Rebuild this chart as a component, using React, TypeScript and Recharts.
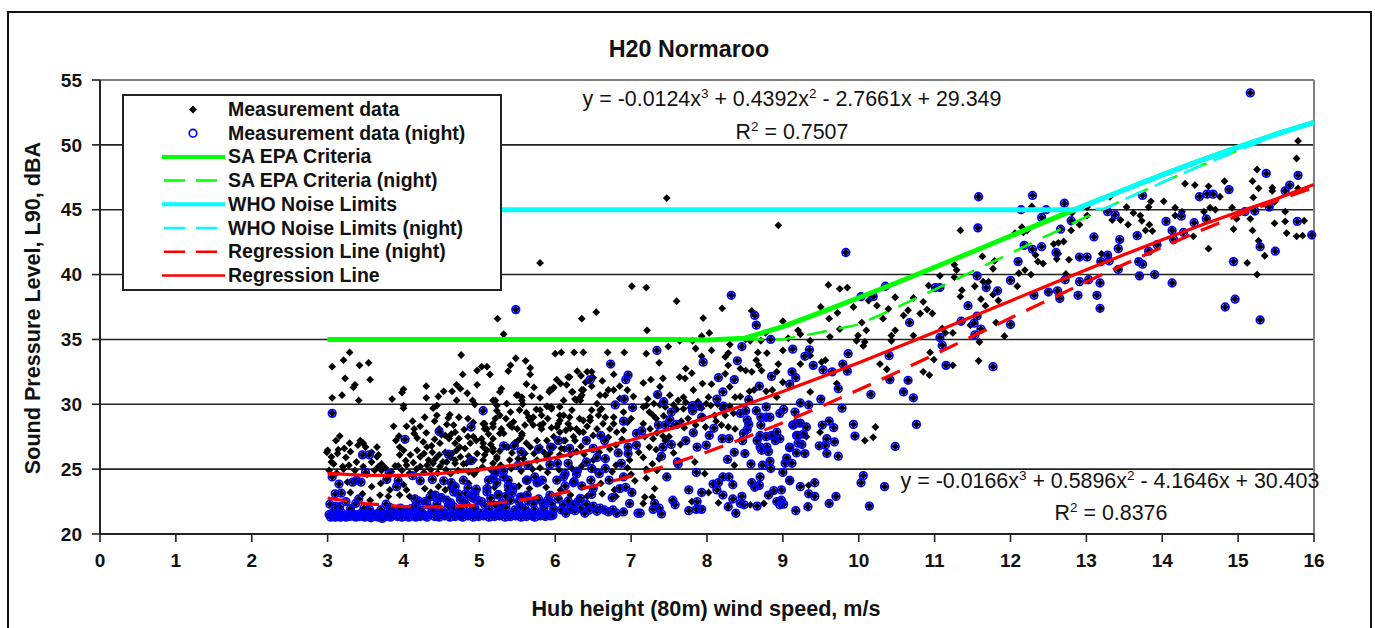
import React from 'react';
import { ScatterChart, Scatter, XAxis, YAxis, CartesianGrid, ReferenceLine } from 'recharts';

type Pair = [number, number];

const xTicks = [0, 1, 2, 3, 4, 5, 6, 7, 8, 9, 10, 11, 12, 13, 14, 15, 16];
const yTicks = [20, 25, 30, 35, 40, 45, 50, 55];
const gridValues = [25, 30, 35, 40, 45, 50];

// black diamonds that have no blue ring, by wind speed band
const dayLow: Pair[] = [
  [3.29,34],[3.06,32.9],[3.21,33.4],[3.42,33],[3.54,33.2],[3.23,32],[3.56,31.9],[3.36,31.5],[3.34,31.3],[3.06,30.5],[3.19,30.7],[3.41,30.3],
  [3.85,30.4],[4,31.15],[3.98,30.9],[4.3,31.4],[4.3,30.5],[4,29.9],[4,29.7],[4.76,33.8],[4.78,32.3],[4.97,32.6],[4.97,31.5],[4.7,31.5],
  [4.75,31.2],[4.64,31],[4.53,31],[4.46,30.6],[4.44,29.9],[4.39,29.7],[4.84,30.85],[4.7,30.3],[4.91,30.3],[4.94,30],[4.28,29],[4.12,28.7],
  [4.44,29.15],[4.41,28.7],[4.61,29.2],[4.59,28.95],[4.57,28.45],[4.85,28.9],[4.8,28.05],[3.87,28.3],[4.04,28.3],[4.14,28.1],[4.14,27.75],
  [4.18,27.4],[3.94,27.55],[3.9,27.2],[3.16,27.55],[3.11,27.2],[3.43,27.2],[3.29,27],[3.47,27],[3.5,26.7],[3.65,26.7],[3.22,26.6],[3.14,26.5],
  [3,26.45],[3.13,26.2],[3.58,26.3],[3.24,25.9],[3.67,26.1],[3.05,25.55],[3.2,25.2],[3.38,25.55],[3.58,25.55],[3.71,25.4],[3.89,25.25],
  [3.95,26.7],[4,26.45],[3.95,26.1],[4.09,26.1],[4.18,26.45],[4.26,27.1],[4.31,26.7],[4.37,26.8],[4.22,25.95],[4.33,25.7],[4.42,25.8],
  [4.48,27],[4.55,27.6],[4.6,27.35],[4.68,27.85],[4.68,27],[4.7,26.45],[4.52,25.55],[4.68,25.7],[4.81,26.6],[4.79,25.4],[4.96,27.2],
  [4.92,27.5],[4.04,25.3],[3.93,25.25],[3.58,23.65],[3.69,23],[3.8,22.9],[4.04,23.4],[4,23.8],[4.46,23.65],[3.56,22.6],
  [4.75,25.95],[4.88,27],[4.64,26.2],[4.68,25.45],[4.48,25.2],[4.22,25.2],[4.31,25.3],[4.39,25.45],[4.57,25.55],[4.83,25.45],[4.97,24.9],[4.97,26.2],
  [3.08,25.4],[3.21,25],[3.36,24.9],[3.47,25.2],[3.65,25.95],[3.67,25.2],[3.71,24.9],[2.99,26.3],[3.05,25.95],[3.3,26.35],[3.4,26.85],
  [3.02,24.9],[3.12,24.7],[3.28,25.3],[3.52,24.6],[3.62,24.9],[3.76,25.1],[3.84,24.8],[3.98,24.9],[4.08,24.7],[4.17,25],[4.27,24.75],[4.36,24.95],
  [4.45,24.7],[4.56,24.95],[4.62,24.65],[4.72,24.9],[4.86,24.8],[4.93,24.6],[4.03,25.65],[4.13,25.5],[4.27,26.2],[4.38,26.3],[4.47,26.1],[4.55,26.3],
  [4.62,25.9],[4.74,26.7],[4.86,26],[4.93,25.7],[4.41,27.3],[4.5,27.65],[4.63,27.7],[4.73,27.35],[4.85,27.5],[4.3,27.8],[4.22,28.3],[4.47,28.1],[4.66,28.4],
  [4.73,29],[4.92,28.6],[3.7,23.9],[3.82,23.4],[3.95,23],[4.08,22.9],[4.28,23.5],[4.36,23.2],[4.55,23.4],[4.62,23.6],[4.86,23.9],[3.26,24],[3.3,23.2],[3.46,23.1],
];

const dayMid: Pair[] = [
  [5.24,36.6],[5.32,35.4],[6.35,36.6],[6.54,37.1],[5.48,33.55],[5.41,33],[5.38,32.55],[5.61,33.35],[5.67,32.8],[5.67,32.3],[5.14,32.3],[5.1,32.9],
  [5.03,32.9],[6,33.9],[6.08,34],[6.25,34],[6.37,34],[6.69,34],[6.91,34],[6.29,32.55],[6.34,32.2],[6.19,32.1],[6.42,32.5],[6.48,32.5],[6.5,32.05],
  [6.77,32.3],[6.02,31.9],[6.07,31.6],[5.62,31.55],[5.72,31.3],[5.29,31.2],[5.27,30.95],[5.97,31.2],[5.92,30.95],[6.23,30.95],[6.35,31.1],
  [6.35,30.7],[6.7,31.1],[5.69,30.65],[5.8,30.5],[5.51,30.7],[5.56,30.3],[5.21,30.3],[6.33,30.3],[6.26,30.4],[6.59,30.7],[5.36,30.05],[5.23,29.9],
  [5.57,30],[5.89,29.85],[6.06,29.8],[5.95,29.65],[6.22,29.55],[6.48,29.55],[6.59,29.55],[6.85,30.45],[5.41,29.4],[5.53,29.55],[5.21,28.9],
  [5.07,28.5],[5.45,28.65],[5.67,28.9],[5.82,29.15],[6.06,29.15],[6.19,29],[6.32,28.9],[6.46,28.75],[6.66,29],[6.77,28.5],[6.9,28],[5.18,28.5],
  [5.4,28.4],[5.71,28.4],[5.84,28.5],[6.04,28.5],[5.27,27.75],[5.56,27.75],[5.82,28.1],[6.06,27.85],[6.32,27.85],[6.55,28.1],[6.81,27.85],
  [5.1,28.1],[5.03,27.35],[5.18,27.35],[5.51,27.2],[5.76,27.2],[5.89,27.2],[6.13,27.2],[6.26,27.2],[5.05,26.7],[5.18,26.6],[5.38,26.7],
  [5.67,26.7],[6.08,26.6],[5.07,26.1],[5.23,25.95],[5.51,25.8],[5.18,25.45],[5.8,40.9],
  [5.18,30.3],[5.23,29.5],[5.27,29.15],[5.05,28.5],[5.07,28.1],[5.18,28.25],[5.43,28.25],[5.56,27.6],[5.71,29],[5.67,28.75],[5.8,28.4],[6.06,28.75],
  [6.11,29.15],[6.02,28.25],[6.17,28.5],[6.28,28.1],[6.37,28.75],[6.46,29],[6.57,29.15],[6.63,28.5],[6.72,28.1],[6.77,29],[5.98,27.5],[6.11,27.2],
  [6.24,27.5],[6.37,27.85],[5.32,27.75],[5.05,27],[5.1,26.45],[5.05,25.7],[5.18,26.35],[5.36,26.7],[5.54,27.35],[5.62,27],[5.8,26.7],[5.98,26.7],
  [6.06,26.1],[6.28,26.35],[6.5,25.7],[5.23,25.8],[5.4,25.7],[5.58,25.8],[5.76,25.7],[5.89,25.95],[5.49,30.7],[5.56,30.55],[5.93,31.1],[5.98,31.3],
  [6.17,32.1],[6.48,31.4],[6.37,31.1],[6.22,30.95],[6.33,30.55],[6.28,30.3],[6.11,30.3],[5.95,29.8],[5.8,29.55],[5.65,29],[6.55,30.05],[6.66,30.7],
  [6.77,31.1],[6.61,29.65],[6.9,29.4],[6.95,28.6],[7,28.9],
  [5.12,27.7],[5.29,28.1],[5.35,28.9],[5.5,28.1],[5.6,28.4],[5.62,29.35],[5.75,29.6],[5.9,28.9],[5.95,28.2],[6.14,28],[6.2,28.15],[6.42,28.3],[6.5,27.6],[6.7,27.45],[6.88,27.3],
  [5.15,26.9],[5.27,26.4],[5.43,26.25],[5.47,27.05],[5.6,26.2],[5.72,26.2],[5.85,26.3],[5.93,26.25],[6.12,26.55],[6.2,26.1],[6.34,26.75],[6.38,26.15],[6.58,26.3],[6.72,26.55],[6.8,26.85],
  [5.04,25.15],[5.15,24.95],[5.28,25.3],[5.42,25.05],[5.55,24.85],[5.7,25],[5.8,25.1],[5.9,24.75],[6.05,24.95],[6.22,25.05],[6.35,25.25],[6.52,24.95],[6.75,24.8],[6.8,25.3],[6.95,25.1],
  [5.2,23.6],[5.37,23.4],[5.52,23.7],[5.66,23.5],[5.88,23.6],[6.07,23.4],[6.2,23],[6.42,22.9],[6.62,23.1],[6.8,22.9],[6.6,23.9],[6.78,23.4],[7,24.6],[6.98,25.7],[7.05,24.1],
  [6.95,31.1],[7.03,30.6],[6.85,31.4],[6.62,31.8],[6.4,31.7],[6.15,31.5],
];

const dayHigh: Pair[] = [
  [7.6,37.95],[7.95,36.65],[7.21,35.7],[7.49,34.45],[7.64,34.9],[7.81,34.9],[7.93,35.25],[8.03,35.5],[7.85,34.3],[8.3,34.6],[8.77,35.5],[9,36.4],
  [9.07,35.1],[8.71,34.9],[8.57,34.9],[8.51,35],[7.2,33.9],[7.37,33.2],[7.93,33.7],[8.06,34.15],[8.28,33.95],[8.24,33.65],[8.67,34],[8.79,33.95],
  [9,34.15],[8.28,33],[8.65,33.4],[8.68,33],[8.94,33.1],[7.72,32.75],[7.8,32.4],[7.71,32],[7.64,32.1],[7.42,32],[7.26,31.9],[7.16,31.65],[7.94,31.6],
  [8.24,32.35],[8.44,32.75],[8.51,32.6],[8.59,32.5],[8.72,32.6],[8.92,32.5],[9,31.7],[8.06,31.55],[8.3,31.35],[7.38,31.35],[7.34,30.7],[7.51,30.7],
  [7.69,30.55],[7.82,31.1],[8.02,30.55],[8.37,30.55],[8.92,30.55],[7.2,29.9],[7.62,30.3],[7.16,29.8],[7.69,29.65],[7.99,30.05],[8.1,29.15],[8.35,29.3],
  [8.24,29.15],[7.29,29.15],[7.75,28.9],[7.25,28.1],[7.16,28.5],[7.95,29],[7.29,27.35],[8.28,28.25],[8.37,28.1],[7.45,27.2],[7.56,26.25],[7.2,24.3],
  [7.18,22.85],[7.28,22.85],[7.31,23.5],[7.16,22.35],[7.84,25.55],[8.36,25.3],[7.97,24.65],[8.02,23.2],[8.15,22.4],[7.8,22.5],[8.57,22.25],[8.75,22.35],
  [7.47,45.9],[8.94,43.8],[7.01,39.1],[7.2,39],[8.2,37.4],[8.59,37.2],
  [9.6,39.2],[9.75,38.9],[9.85,39],[9.5,37.5],[9.72,37.05],[9.61,36.6],[9.75,35.8],[10.04,36.3],[10.24,37.6],[10.39,37.35],[10.32,36.6],[9.93,37.5],
  [10.13,38],[10.48,38.25],[10.72,38.2],[10.59,36.85],[10.65,37.25],[10.48,35.7],[10.43,35.3],[10.1,35.7],[9.99,35.3],[9.97,34.9],[10.08,34.8],
  [10.43,34.9],[10.72,35.3],[9.36,34.9],[9.2,35.7],[9.23,35.4],[9.62,35.2],[10.06,34.5],[9.56,33.4],[9.51,33.25],[9.36,33.75],[9.23,33.1],[10.28,33.1],
  [10.37,32.7],[9.71,31.6],[9.36,30.95],[10.22,28.25],[10.08,27.2],[10.19,27.45],[9.49,27.85],[9.31,27.5],[9.34,23.75],
  [7.22,30.4],[7.3,30.05],[7.38,29.95],[7.45,29.8],[7.56,29.95],[7.6,29.6],[7.72,30.15],[7.78,29.75],[7.88,30.2],[7.93,29.7],[8.05,29.9],[8.14,30],[8.2,29.65],[8.3,29.85],
  [8.44,30.6],[8.56,31],[8.62,31.1],[8.78,31],[8.86,31.1],[7.24,29.4],[7.33,28.9],[7.43,29.1],[7.55,28.3],[7.66,28.7],[7.7,28.2],[7.85,28.4],[7.98,28.25],[8.12,28.7],[8.19,28.4],
  [7.18,27.5],[7.34,27.8],[7.42,27.55],[7.24,26.7],[7.33,26.5],[7.5,27.5],[7.65,26.9],[7.16,25.9],[7.28,25.4],[7.37,25.8],[7.1,26.3],[7.2,25],[7.34,24.9],
];

const dayTop: Pair[] = [
  [11.34,43.4],[11.63,41.4],[11.79,41.05],[11.77,40.45],[11.26,40.75],[11.29,40.35],[11.26,39.8],[11.07,39.9],[10.92,39.15],[11.53,39.1],[11.64,39.45],
  [11.71,39.45],[11.77,38.45],[11.36,38.8],[11.34,38.3],[11.61,38.1],[11.67,37.6],[11.84,38],[10.85,37.9],[10.9,37.3],[10.97,37],[10.81,37],[12.06,43.2],
  [12.15,43.65],[12.17,43.25],[12.22,43.4],[12.11,40.1],[12.19,40.35],[12.27,40],[12.09,39.1],[12.33,41.5],[12.36,41],[12.43,40.85],[12.28,45.25],
  [12.57,42.35],[12.63,42.45],[12.7,42.55],[12.63,41.6],[12.61,41.2],[12.77,41.15],[12.73,40.05],[12.81,44.75],[12.8,43.4],[12.91,43.85],[13.01,45.2],
  [13.01,44.55],[13.31,46],[13.2,41.6],[13.53,45.2],[13.34,44.2],[13.45,44.2],[13.55,43.85],[13.62,44.75],[13.71,44.55],[13.73,44.15],[13.82,45.2],
  [13.85,45.65],[13.83,43.85],[13.78,43.4],[13.87,43.35],[14.02,45.65],[14.17,45.15],[14.26,44.85],[14.17,44.55],[14.3,47],[14.43,46.9],[14.61,46.8],
  [14.82,47.2],[14.76,46],[14.55,44.85],[14.7,45],[14.63,45.15],[14.92,45.15],[14.41,42.95],[14.61,42],[14.94,43.5],[14.98,44.3],[15.12,40.9],[15.19,47.2],
  [15.25,48.1],[15.27,46.65],[15.2,45.95],[15.19,43.4],[15.16,44.3],[15.27,42.6],[15.25,40],[15.35,41.45],[15.45,46.7],[15.45,46.45],[15.48,45.6],
  [15.62,44.85],[15.62,44.1],[15.48,43.95],[15.64,43.2],[15.77,42.95],[15.85,43],[15.87,44.15],[15.79,50.3],[15.77,48.95],[15.79,46.65],[14.86,49.4],
  [11.58,33.35],[11.24,33],[11.92,35.25],[11.81,36.3],[11.59,34.8],[11.1,35.85],[11.14,35.5],[11.24,35.5],[11.47,36.1],[10.94,34],[10.99,33.45],[10.93,32.25],[10.85,32.5],
];

// blue ringed points
const nightFloor: Pair[] = [
  [3.02,21.5],[3.04,21.3],[3.06,21.6],[3.08,21.4],[3.1,21.3],[3.12,21.55],[3.15,21.4],[3.17,21.3],[3.19,21.6],[3.22,21.4],[3.24,21.3],[3.27,21.5],[3.29,21.35],
  [3.32,21.6],[3.34,21.4],[3.37,21.3],[3.39,21.5],[3.42,21.35],[3.44,21.6],[3.47,21.4],[3.49,21.3],[3.52,21.55],[3.54,21.4],[3.57,21.25],[3.59,21.5],[3.62,21.35],
  [3.64,21.55],[3.67,21.3],[3.69,21.45],[3.72,21.2],[3.74,21.5],[3.77,21.35],[3.8,21.55],[3.83,21.3],[3.86,21.45],[3.89,21.6],[3.92,21.35],[3.95,21.5],[3.98,21.3],
  [4.01,21.6],[4.04,21.4],[4.07,21.3],[4.1,21.55],[4.13,21.4],[4.16,21.3],[4.19,21.5],[4.22,21.35],[4.25,21.6],[4.28,21.4],[4.31,21.3],[4.34,21.5],[4.38,21.65],
  [4.41,21.35],[4.44,21.5],[4.47,21.3],[4.51,21.6],[4.54,21.4],[4.57,21.55],[4.61,21.3],[4.64,21.5],[4.68,21.35],[4.71,21.6],[4.74,21.4],[4.78,21.3],[4.81,21.55],
  [4.85,21.4],[4.88,21.6],[4.92,21.3],[4.95,21.5],[4.99,21.35],[5.02,21.6],[5.06,21.4],[5.1,21.55],[5.13,21.3],[5.17,21.5],[5.2,21.35],[5.24,21.6],[5.27,21.4],
  [5.31,21.55],[5.34,21.3],[5.38,21.5],[5.41,21.35],[5.45,21.6],[5.48,21.4],[5.52,21.55],[5.55,21.3],[5.59,21.5],[5.62,21.35],[5.66,21.6],[5.69,21.4],[5.73,21.3],
  [5.76,21.55],[5.8,21.4],[5.83,21.6],[5.87,21.35],[5.9,21.5],[5.94,21.4],[5.97,21.45],[6.14,21.6],[6.26,21.8],[6.39,21.6],[6.7,21.7],[6.81,21.6],[6.9,21.7],[7.09,21.6],
];

const nightLow: Pair[] = [
  [3.06,29.3],[4.02,27.3],[4.47,27.9],[4.89,28.25],[4.59,26.15],[4.89,25.65],[3.46,26.1],[3.55,26.1],[3.06,24.4],[3.15,23.85],[3.33,24],[3.38,24.15],[3.44,24],
  [3.5,24.75],[3.81,24.65],[3.78,24.2],[3.93,24.1],[3.91,23.65],[4.12,24.5],[4.22,24.1],[4.38,24.2],[4.53,24.1],[4.63,23.95],[4.79,24.15],[4.96,23.45],[4.94,23.1],
  [3.1,23.1],[3.18,23.15],[3.41,22.7],[3.37,22.35],[3.03,22.3],[3.1,22.15],[3.16,22.1],[3.48,22],[3.77,22.3],[4.15,22.7],[4.2,22.55],[4.35,22.85],[4.42,23],[4.44,22.75],
  [4.57,22.6],[4.66,23.25],[4.72,23.1],[4.75,22.65],[4.82,23.1],[4.92,22.75],[4.66,22.1],[4.93,21.9],
  [3.87,21.8],[3.96,22],[4.05,21.75],[4.15,22.1],[4.22,21.85],[4.31,22.25],[4.38,21.9],[4.44,22.3],[4.5,21.8],[4.59,22.15],[4.75,21.9],[4.83,22.2],[4.94,22],
  [4.28,22.5],[4.5,22.8],[4.62,22.4],[4.8,22.5],[4.88,22.9],[4.98,22.6],[3.24,22.5],[3.3,21.95],[3.55,21.9],[3.7,21.85],[3.82,22.05],[4.1,21.95],[4.68,23.65],[4.85,23.55],
];

const nightMid: Pair[] = [
  [5.48,37.3],[6.73,33.1],[6.46,31.9],[6.96,32.25],[6.93,31.9],[6.91,30.4],[6.79,29.95],[7.02,29.75],[6.9,28.7],[5.05,29.5],[5.32,26.8],[5.46,26.8],[5.55,26.35],
  [5.78,26.55],[5.94,26.7],[6.04,27.2],[6.19,26.6],[6.41,27.2],[6.6,27.6],[6.65,27.2],[6.5,26.6],[6.55,25.9],[6.66,25.8],[6.83,26.25],[6.96,26.7],[6.96,26.2],[6.87,25.45],
  [7.07,26.85],[7.07,27.75],[5.51,25.3],[5.64,25.3],[5.93,25.35],[6.03,25.45],[6.17,25.45],[6.41,25.55],[6.48,25.05],[6.66,25.05],[6.29,24.85],[6.58,24.65],[5.32,24.85],
  [5.21,24.8],[6.13,24.65],[6.11,24.4],[6.02,24.15],[5.73,24.4],[5.62,24.15],[5.76,23.95],[5.38,24.15],[5.18,24.3],[5.1,23.5],[6.24,23.95],[6.35,23.7],[6.47,24.15],
  [6.71,24.15],[6.9,24.4],[6.85,23.5],[6.93,23.6],[7.01,23.2],[6.5,23.5],[6.48,23.05],[6.33,22.75],[6.75,22.8],[6.98,22.35],[5.45,23.6],[5.43,23.15],[5.25,23],[5.56,22.85],
  [5.93,23],[5.07,22.25],[5.29,22.35],[5.71,22.35],[5.95,22.35],[6.11,22.25],[6.24,22.25],[5.54,22.1],[5.84,22.35],[6.41,22.3],[6.5,22.15],[6.59,22],
  [5.03,22.5],[5.12,21.9],[5.21,22.2],[5.27,21.75],[5.35,22.05],[5.41,22.6],[5.47,21.85],[5.52,22.5],[5.6,22],[5.64,22.6],[5.73,21.85],[5.78,22.7],[5.85,22],[5.9,22.6],
  [5.98,21.9],[6.04,22.7],[6.08,21.85],[6.17,22.55],[6.2,21.9],[6.3,22.5],[6.33,21.95],[6.45,21.85],[6.55,21.75],[6.65,21.85],[6.76,21.85],[5.12,24.15],[5.23,23.95],[5.38,23.7],
  [5.1,23.25],[5.25,23.05],[5.44,23.4],[5.54,22.85],[5.63,23],[5.21,24.7],[5.32,24.4],[5.63,24.15],[5.78,24],[5.83,24.15],[6.13,23.7],[6.25,24.05],[6.28,24.6],[5.15,22.75],[5.35,22.9],
];

const nightHigh: Pair[] = [
  [8.63,36.85],[8.65,36.1],[8.84,35],[8.46,34.45],[9.13,34.25],[7.34,34.15],[7.95,33.25],[8.4,33.35],[9.12,32.5],[8.15,32.05],[8.36,31.9],[8.85,32.15],[9.17,32.05],[9.09,31.55],
  [8.69,31.4],[8.21,30.95],[7.35,30.75],[7.43,30.2],[8.13,30.4],[8.55,30.35],[8.22,29.85],[8.78,29.8],[9.16,29.4],[9.01,29.6],[7.53,29.4],[7.81,29.9],[7.9,29.85],[7.81,29.5],
  [7.93,29],[8.44,29.3],[8.51,29.5],[8.65,29.5],[8.96,29.3],[8.71,29],[8.78,29],[8.83,29],[8.53,28.8],[8.55,28.45],[8.53,28.05],[9.18,28.55],[9.13,28.4],[8.71,28.4],[7.51,28.8],
  [7.6,28.45],[7.45,28.4],[7.36,28.4],[7.14,27.95],[8.09,28.15],[7.82,27.8],[8.03,27.6],[7.72,27.2],[7.53,26.9],[7.42,26.7],[7.4,26],[8.2,27.35],[8.29,27.35],[8.48,27.75],[8.47,27.2],
  [7.99,26.85],[7.87,26.7],[8.7,27.6],[8.66,27.2],[8.78,27.5],[8.92,27.85],[8.85,27.6],[8.96,27.35],[8.9,27.2],[9.18,27.6],[9.09,26.65],[9.2,27],[8.7,26.7],[8.79,26.7],[8.72,26.45],
  [8.81,26.35],[8.36,26.3],[8.5,26.2],[8.27,25.75],[7.61,25.55],[7.62,25.4],[8.58,25.4],[8.73,25.3],[8.83,25.6],[8.84,25.05],[9.05,25.85],[9.03,25.45],[9.12,25.45],[9,24.75],[7.47,24.4],
  [7.86,24.75],[8.21,24.4],[8.29,24.4],[8.34,23.8],[8.15,23.95],[8.08,23.85],[8.13,23.4],[8.21,23],[7.76,23.4],[7.93,23.2],[8.59,23.95],[8.7,24.4],[8.69,23.75],[8.63,23.6],[9.09,24.15],
  [8.98,23.4],[8.88,23.35],[8.81,23],[8.46,22.9],[8.34,22.7],[8.44,22.35],[8.49,22.25],[8.28,22.1],[8.66,22.15],[7.87,22.5],[7.55,22.6],[7.58,22.25],[7.31,22.35],[7.29,21.9],[7.37,22],
  [7.4,21.55],[7.76,21.8],[7.86,21.9],[7.93,21.9],[8.38,21.6],[8.92,22.5],[8.98,22.6],[9.01,22.3],[8.96,22.25],[9.17,21.8],[7.12,21.6],[9.83,41.7],[8.32,38.4],
  [10.03,38.3],[10.19,38.3],[10.35,39.1],[10.67,36.3],[9.35,34.2],[9.29,33.7],[9.4,33],[9.53,32.65],[9.65,32.5],[9.79,33.1],[9.86,33.9],[9.85,32.55],[9.73,31.2],[10.4,33.75],[10.41,31.9],
  [10.65,31.85],[10.59,30.95],[10.72,30.5],[10.16,30.75],[9.5,30.4],[9.23,30.1],[9.34,29.95],[9.78,29.7],[9.23,28.55],[9.14,28.4],[9.31,28.25],[9.52,28.4],[9.61,28.7],[9.67,28.2],
  [9.93,28.45],[9.95,27.55],[10.76,28.45],[10.48,26.75],[9.58,27.35],[9.68,27.1],[9.48,26.8],[9.56,26.85],[9.58,26.2],[9.73,26],[9.25,26.9],[9.27,27.7],[9.2,27.6],[9.09,26.7],[9.29,26.2],
  [9.18,26.25],[9.42,23.95],[9.09,24.1],[9.23,23.65],[9.42,22.9],[9.33,22.1],[9.34,23.1],[9.7,22.9],[9.61,22.35],[10.14,22.15],[10.34,23.65],[10.06,24.5],[10.03,23.95],
];

const nightTop: Pair[] = [
  [15.16,54],[11.58,46],[12.29,46.1],[11.57,43.6],[12.14,45],[12.47,45],[12.41,44.4],[12.71,45.5],[12.8,44.15],[12.66,43.5],[12.18,42.25],[12.29,41.95],[12.41,42.15],[12.6,41.7],[12.1,41],
  [12,39.55],[11.56,39.9],[11.68,39],[11.83,38.75],[11.01,39],[11.07,39],[11.44,37.6],[11.35,36.4],[11.52,36.25],[11.56,36.8],[11.61,35.8],[11.53,35.35],[12,36.15],[11.07,35.15],[11.1,34.55],
  [11.15,33],[11.77,32.9],[12.31,38.4],[12.5,38.65],[12.62,38.75],[12.65,38.15],[12.89,38.4],[12.91,39.45],[13.03,39.6],[13.18,39.35],[13.14,38.4],[13.18,37.4],[12.72,39.6],[12.91,41.35],
  [13.01,41.35],[13.1,42.9],[13.19,41],[13.28,41.5],[13.3,41.05],[13.42,40.4],[13.42,42],[13.44,42.7],[13.28,44.85],[13.38,44.6],[13.67,43],[13.74,46.1],[13.93,42.3],[13.82,41.8],[13.69,41],
  [13.74,40.8],[13.7,39.9],[13.9,40],[14.13,39.35],[14.05,44.1],[14.13,43.4],[14.15,42.7],[14.28,43.25],[14.25,44.5],[14.42,44],[14.58,44.3],[14.49,46],[14.59,46.2],[14.67,46.2],[14.88,46.55],
  [14.94,41],[14.83,37.5],[14.96,38.1],[15.22,44.9],[15.09,44.85],[15.29,42.15],[15.49,41.8],[15.29,36.5],[15.37,47.8],[15.41,45.2],[15.62,46.45],[15.68,46.9],[15.79,47.65],[15.78,44.1],[15.97,43.05],
];

// curves read at half-metre steps
const regDay: Pair[] = [
  [3,24.67],[3.5,24.52],[4,24.52],[4.5,24.67],[5,24.95],[5.5,25.36],[6,25.89],[6.5,26.52],[7,27.25],[7.5,28.08],[8,28.98],[8.5,29.95],[9,30.99],[9.5,32.08],[10,33.21],
  [10.5,34.37],[11,35.56],[11.5,36.76],[12,37.97],[12.5,39.18],[13,40.37],[13.5,41.54],[14,42.68],[14.5,43.78],[15,44.83],[15.5,45.82],[16,46.95],
];
const regNight: Pair[] = [
  [3,22.77],[3.5,22.34],[4,22.12],[4.5,22.09],[5,22.25],[5.5,22.57],[6,23.06],[6.5,23.69],[7,24.45],[7.5,25.33],[8,26.32],[8.5,27.41],[9,28.58],[9.5,29.82],[10,31.12],
  [10.5,32.46],[11,33.84],[11.5,35.24],[12,36.65],[12.5,38.05],[13,39.44],[13.5,40.79],[14,42.11],[14.5,43.37],[15,44.57],[15.5,45.69],[16,46.71],
];
const saDay: Pair[] = [
  [3,35],[4,35],[5,35],[6,35],[7,35],[7.5,35],[8,34.95],[8.5,35.1],[9,35.99],[9.5,37.08],[10,38.21],[10.5,39.37],[11,40.56],[11.5,41.76],[12,42.97],[12.5,44.18],[13,45.37],
  [13.5,46.54],[14,47.68],[14.5,48.78],[15,49.83],[15.5,50.82],[16,51.74],
];
const saNight: Pair[] = [
  [3,35],[5,35],[7,35],[8.5,35],[9,35],[9.5,35.55],[10,36.15],[10.5,37.46],[11,38.84],[11.5,40.24],[12,41.65],[12.5,43.05],[13,44.44],[13.5,45.79],[14,47.11],[14.5,48.37],[15,49.57],
];
const whoDay: Pair[] = [
  [3,45],[5,45],[7,45],[9,45],[11,45],[12,45],[12.5,45],[12.85,45],[13,45.37],[13.5,46.54],[14,47.68],[14.5,48.78],[15,49.83],[15.5,50.82],[16,51.74],
];
const whoNight: Pair[] = [
  [3,45],[7,45],[11,45],[13,45],[13.25,45.1],[13.5,45.79],[14,47.11],[14.5,48.37],[15,49.57],[15.5,50.69],[16,51.71],
];

const toPoints = (pairs: Pair[]) => pairs.map(([x, y]) => ({ x, y }));

const nightAll = [...nightFloor, ...nightLow, ...nightMid, ...nightHigh, ...nightTop];
const blackAll = [...dayLow, ...dayMid, ...dayHigh, ...dayTop, ...nightAll];

const font = '"Liberation Sans", Arial, sans-serif';
const GREEN = '#00ff00';
const CYAN = '#00ffff';
const RED = '#ff0000';
const BLUE = '#0000ff';
const DARK = '#222222';

const Diamond = (props: any) => {
  const { cx, cy } = props;
  return <polygon points={`${cx},${cy - 3.9} ${cx + 3.9},${cy} ${cx},${cy + 3.9} ${cx - 3.9},${cy}`} fill="#000" />;
};
const Ring = (props: any) => {
  const { cx, cy } = props;
  return <circle cx={cx} cy={cy} r={3.8} fill="none" stroke={BLUE} strokeWidth={1.7} />;
};
const NoMark = () => <g />;

const legendRows = [
  { name: 'Measurement data', kind: 'diamond' },
  { name: 'Measurement data (night)', kind: 'ring' },
  { name: 'SA EPA Criteria', color: GREEN, width: 4 },
  { name: 'SA EPA Criteria (night)', color: GREEN, width: 2.5, dash: true },
  { name: 'WHO Noise Limits', color: CYAN, width: 4 },
  { name: 'WHO Noise Limits (night)', color: CYAN, width: 2.5, dash: true },
  { name: 'Regression Line (night)', color: RED, width: 2.5, dash: true },
  { name: 'Regression Line', color: RED, width: 2.5 },
];

const LegendBox = () => (
  <svg width={380} height={197} style={{ position: 'absolute', left: 122, top: 94, display: 'block' }}>
    <rect x={1} y={1} width={378} height={195} fill="#fff" stroke={DARK} strokeWidth={2} />
    {legendRows.map((row: any, i) => {
      const y = 15.5 + i * 23.7;
      return (
        <g key={row.name}>
          {row.kind === 'diamond' && <Diamond cx={71} cy={y} />}
          {row.kind === 'ring' && <Ring cx={71} cy={y} />}
          {row.color && (
            <line x1={row.dash ? 42 : 40} x2={row.dash ? 96 : 103} y1={y} y2={y} stroke={row.color} strokeWidth={row.width} strokeDasharray={row.dash ? '21 11' : undefined} />
          )}
          <text x={106} y={y + 6.5} fontFamily={font} fontWeight="bold" fontSize={19.5} fill="#111">
            {row.name}
          </text>
        </g>
      );
    })}
  </svg>
);

const Eq = ({ top, cx, children }: { top: number; cx: number; children: React.ReactNode }) => (
  <div style={{ position: 'absolute', top, left: cx - 300, width: 600, textAlign: 'center', fontFamily: font, fontSize: 21.4, color: '#111', lineHeight: '22px', whiteSpace: 'nowrap' }}>
    {children}
  </div>
);
const Sup = ({ children }: { children: React.ReactNode }) => <sup style={{ fontSize: 13.5, lineHeight: 0 }}>{children}</sup>;

const tickStyle = { fontFamily: font, fontWeight: 'bold', fontSize: 19, fill: '#111' };

const curve = (key: string, pairs: Pair[], stroke: string, strokeWidth: number, dashed?: boolean) => (
  <Scatter
    key={key}
    name={key}
    data={toPoints(pairs)}
    shape={NoMark}
    line={{ stroke, strokeWidth, strokeDasharray: dashed ? '20 12' : undefined, fill: 'none' }}
    lineType="joint"
    isAnimationActive={false}
  />
);

export default function App() {
  return (
    <div style={{ position: 'absolute', left: 0, top: 0, width: 1375, height: 628, overflow: 'hidden', background: '#fff' }}>
      <div style={{ position: 'absolute', left: 7, top: 11, width: 1361, height: 640, border: '2px solid #111' }} />
      <ScatterChart width={1375} height={628} margin={{ top: 80, right: 61, bottom: 0, left: 0 }} style={{ position: 'absolute', left: 0, top: 0 }}>
        <CartesianGrid horizontal vertical={false} horizontalValues={gridValues} stroke={DARK} strokeWidth={1.6} />
        <XAxis
          type="number"
          dataKey="x"
          domain={[0, 16]}
          ticks={xTicks}
          interval={0}
          height={94}
          tickSize={8}
          tickMargin={12}
          tick={tickStyle}
          axisLine={{ stroke: DARK, strokeWidth: 2 }}
          tickLine={{ stroke: DARK, strokeWidth: 1.6 }}
        />
        <YAxis
          type="number"
          dataKey="y"
          domain={[20, 55]}
          ticks={yTicks}
          interval={0}
          width={100}
          tickSize={8}
          tickMargin={10}
          tick={tickStyle}
          axisLine={{ stroke: DARK, strokeWidth: 2 }}
          tickLine={{ stroke: DARK, strokeWidth: 1.6 }}
        />
        <ReferenceLine y={55} stroke="#808080" strokeWidth={2} />
        <ReferenceLine x={16} stroke="#808080" strokeWidth={2} />
        <Scatter name="Measurement data" data={toPoints(blackAll)} shape={Diamond} isAnimationActive={false} />
        <Scatter name="Measurement data (night)" data={toPoints(nightAll)} shape={Ring} isAnimationActive={false} />
        {curve('SA EPA Criteria', saDay, GREEN, 5)}
        {curve('SA EPA Criteria (night)', saNight, GREEN, 2.5, true)}
        {curve('WHO Noise Limits', whoDay, CYAN, 5)}
        {curve('WHO Noise Limits (night)', whoNight, CYAN, 2.5, true)}
        {curve('Regression Line (night)', regNight, RED, 3.2, true)}
        {curve('Regression Line', regDay, RED, 3.2)}
      </ScatterChart>
      <LegendBox />

      <div style={{ position: 'absolute', left: 389, top: 36, width: 600, textAlign: 'center', fontFamily: font, fontWeight: 'bold', fontSize: 23.3, color: '#111', lineHeight: '26px' }}>H20 Normaroo</div>
      <div style={{ position: 'absolute', left: 406, top: 596, width: 600, textAlign: 'center', fontFamily: font, fontWeight: 'bold', fontSize: 21.6, color: '#111', lineHeight: '26px' }}>Hub height (80m) wind speed, m/s</div>
      <div style={{ position: 'absolute', left: 33, top: 308, width: 0, height: 0 }}>
        <div style={{ position: 'absolute', left: -300, top: -13, width: 600, textAlign: 'center', transform: 'rotate(-90deg)', fontFamily: font, fontWeight: 'bold', fontSize: 21.6, color: '#111', lineHeight: '26px' }}>Sound Pressure Level, L90, dBA</div>
      </div>

      <Eq top={88} cx={792}>y = -0.0124x<Sup>3</Sup> + 0.4392x<Sup>2</Sup> - 2.7661x + 29.349</Eq>
      <Eq top={121} cx={792}>R<Sup>2</Sup> = 0.7507</Eq>
      <Eq top={470} cx={1110}>y = -0.0166x<Sup>3</Sup> + 0.5896x<Sup>2</Sup> - 4.1646x + 30.403</Eq>
      <Eq top={502} cx={1111}>R<Sup>2</Sup> = 0.8376</Eq>
    </div>
  );
}
